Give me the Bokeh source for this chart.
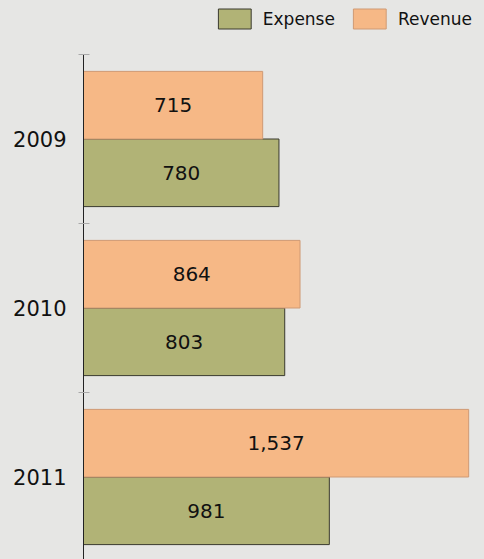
from bokeh.plotting import figure
from bokeh.models import (ColumnDataSource, Range1d, FixedTicker, Legend,
                          GlobalInlineStyleSheet)
from bokeh.core.properties import value
from bokeh.embed import file_html
from bokeh.resources import INLINE

years = ["2009", "2010", "2011"]
expense = [780, 803, 981]
revenue = [715, 864, 1537]

BG = "#E6E6E4"
REV_FILL = "#F6B886"
REV_LINE = "#CF9A74"
EXP_FILL = "#B1B376"
EXP_LINE = "#3A3A2E"
FONT = "DejaVu Sans"

idx = list(range(len(years)))
bar_h = 0.4
rev_src = ColumnDataSource(dict(
    y=[i + 0.5 - bar_h / 2 for i in idx],
    v=revenue,
    mid=[v / 2 for v in revenue],
    lab=["{:,}".format(v) for v in revenue],
))
exp_src = ColumnDataSource(dict(
    y=[i + 0.5 + bar_h / 2 for i in idx],
    v=expense,
    mid=[v / 2 for v in expense],
    lab=["{:,}".format(v) for v in expense],
))

cat_px = 169.0
top_extra = 54 / cat_px
bottom = (559 - 54) / cat_px
p = figure(width=484, height=559, output_backend="svg", toolbar_location=None,
           x_range=Range1d(0, 395 / 0.2506), y_range=Range1d(bottom, -top_extra),
           min_border_left=83, min_border_right=6, min_border_bottom=0,
           min_border_top=0)
p.background_fill_color = BG
p.border_fill_color = BG
p.outline_line_color = None
p.grid.visible = False
p.xaxis.visible = False
p.stylesheets = [GlobalInlineStyleSheet(css="html, body { background-color: #E6E6E4; }")]

r_exp = p.hbar(y="y", right="v", left=0, height=bar_h, source=exp_src,
               fill_color=EXP_FILL, line_color=EXP_LINE, line_width=1)
r_rev = p.hbar(y="y", right="v", left=0, height=bar_h, source=rev_src,
               fill_color=REV_FILL, line_color=REV_LINE, line_width=1)

for src in (rev_src, exp_src):
    p.text(x="mid", y="y", text="lab", source=src, text_align="center",
           text_baseline="middle", text_font=value(FONT),
           text_font_size="20px", text_color="#111111")

yax = p.yaxis[0]
yax.bounds = (0, bottom)
yax.ticker = FixedTicker(ticks=[i + 0.5 for i in idx], minor_ticks=[0, 1, 2, 3])
yax.major_label_overrides = {i + 0.5: y for i, y in zip(idx, years)}
yax.major_tick_in = 0
yax.major_tick_out = 0
yax.minor_tick_in = 6
yax.minor_tick_out = 5
yax.minor_tick_line_color = "#AAAAAA"
yax.axis_line_color = "#222222"
yax.major_label_standoff = 12
yax.major_label_text_font = FONT
yax.major_label_text_font_size = "21px"
yax.major_label_text_color = "#111111"

legend = Legend(items=[("Expense", [r_exp]), ("Revenue", [r_rev])],
                orientation="horizontal", location="top_right",
                glyph_width=41, glyph_height=25, label_standoff=8, spacing=14,
                padding=0, margin=6, border_line_color=None,
                background_fill_alpha=0, label_text_font=FONT,
                label_text_font_size="17px", label_text_color="#111111")
p.add_layout(legend, "center")

open("out.html", "w").write(file_html(p, INLINE))
